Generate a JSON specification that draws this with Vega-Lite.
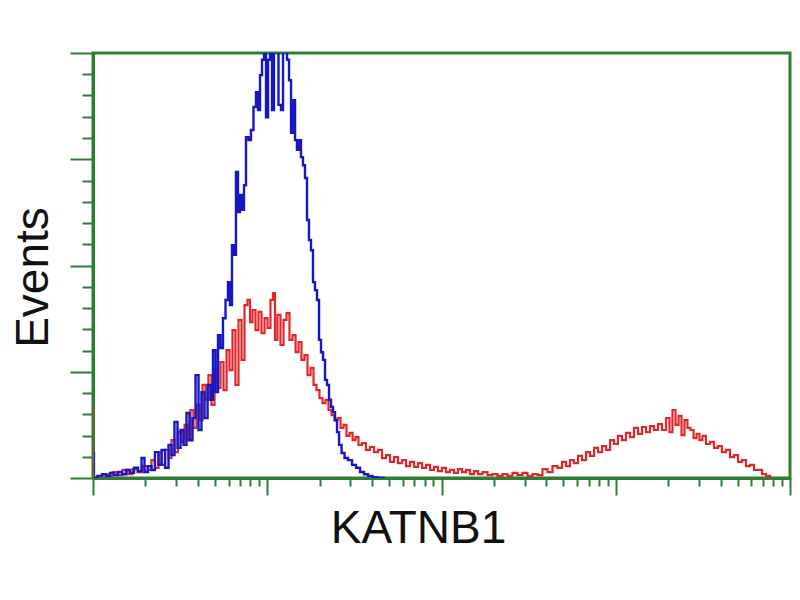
{
  "$schema": "https://vega.github.io/schema/vega-lite/v6.json",
  "width": 697,
  "height": 425,
  "autosize": "none",
  "padding": {"left": 93, "top": 53, "right": 10, "bottom": 69},
  "background": "white",
  "config": {
    "view": {"stroke": "#2e7d32", "strokeWidth": 3},
    "axis": {
      "domainColor": "#2e7d32",
      "domainWidth": 3,
      "tickColor": "#2e7d32",
      "tickWidth": 2,
      "labels": false,
      "grid": false,
      "titleFont": "Liberation Sans",
      "titleFontSize": 46,
      "titleFontWeight": "normal",
      "titleColor": "#111111"
    }
  },
  "datasets": {
    "sample": [
      {"x": 0, "y": 0}, {"x": 0.04, "y": 0.2}, {"x": 0.069, "y": 0.9}, {"x": 0.098, "y": 0.5}, {"x": 0.126, "y": 1.4},
      {"x": 0.155, "y": 0.7}, {"x": 0.184, "y": 1.9}, {"x": 0.212, "y": 0.9}, {"x": 0.241, "y": 2.1}, {"x": 0.27, "y": 1.4},
      {"x": 0.298, "y": 2.8}, {"x": 0.327, "y": 1.9}, {"x": 0.344, "y": 4.2}, {"x": 0.367, "y": 2.4}, {"x": 0.385, "y": 6.1},
      {"x": 0.402, "y": 3.1}, {"x": 0.425, "y": 6.6}, {"x": 0.442, "y": 4.7}, {"x": 0.459, "y": 8.9}, {"x": 0.476, "y": 6.1},
      {"x": 0.499, "y": 10.8}, {"x": 0.517, "y": 8.5}, {"x": 0.534, "y": 12.5}, {"x": 0.551, "y": 8.9}, {"x": 0.568, "y": 16.0},
      {"x": 0.585, "y": 11.8}, {"x": 0.603, "y": 17.2}, {"x": 0.62, "y": 13.6}, {"x": 0.637, "y": 21.9}, {"x": 0.654, "y": 18.4},
      {"x": 0.671, "y": 24.2}, {"x": 0.689, "y": 17.2}, {"x": 0.706, "y": 25.4}, {"x": 0.723, "y": 21.2}, {"x": 0.74, "y": 27.3},
      {"x": 0.758, "y": 20.7}, {"x": 0.775, "y": 30.1}, {"x": 0.792, "y": 25.4}, {"x": 0.809, "y": 34.8}, {"x": 0.826, "y": 21.9},
      {"x": 0.844, "y": 37.2}, {"x": 0.861, "y": 27.8}, {"x": 0.878, "y": 40.7}, {"x": 0.895, "y": 41.9}, {"x": 0.907, "y": 36.7},
      {"x": 0.924, "y": 39.5}, {"x": 0.941, "y": 34.8}, {"x": 0.958, "y": 39.1}, {"x": 0.976, "y": 34.1}, {"x": 0.993, "y": 37.6},
      {"x": 1.01, "y": 35.3}, {"x": 1.027, "y": 41.9}, {"x": 1.039, "y": 43.5}, {"x": 1.05, "y": 32.5}, {"x": 1.067, "y": 38.4},
      {"x": 1.085, "y": 31.3}, {"x": 1.102, "y": 37.2}, {"x": 1.119, "y": 38.8}, {"x": 1.136, "y": 32.5}, {"x": 1.154, "y": 33.6},
      {"x": 1.171, "y": 29.6}, {"x": 1.188, "y": 32.0}, {"x": 1.205, "y": 27.8}, {"x": 1.222, "y": 28.9}, {"x": 1.24, "y": 24.2},
      {"x": 1.257, "y": 25.9}, {"x": 1.274, "y": 21.9}, {"x": 1.291, "y": 20.7}, {"x": 1.308, "y": 18.8}, {"x": 1.326, "y": 17.6},
      {"x": 1.343, "y": 18.4}, {"x": 1.36, "y": 16.0}, {"x": 1.377, "y": 14.8}, {"x": 1.395, "y": 13.6}, {"x": 1.412, "y": 14.1},
      {"x": 1.429, "y": 11.8}, {"x": 1.446, "y": 12.5}, {"x": 1.463, "y": 9.9}, {"x": 1.481, "y": 10.6}, {"x": 1.498, "y": 8.9},
      {"x": 1.515, "y": 9.6}, {"x": 1.532, "y": 7.8}, {"x": 1.555, "y": 8.2}, {"x": 1.578, "y": 6.6}, {"x": 1.601, "y": 7.3},
      {"x": 1.624, "y": 6.1}, {"x": 1.647, "y": 6.6}, {"x": 1.67, "y": 4.7}, {"x": 1.693, "y": 5.4}, {"x": 1.716, "y": 3.8},
      {"x": 1.739, "y": 4.9}, {"x": 1.762, "y": 3.5}, {"x": 1.785, "y": 4.2}, {"x": 1.808, "y": 2.8}, {"x": 1.831, "y": 3.8},
      {"x": 1.854, "y": 2.6}, {"x": 1.877, "y": 3.5}, {"x": 1.9, "y": 2.4}, {"x": 1.923, "y": 3.1}, {"x": 1.945, "y": 1.9},
      {"x": 1.968, "y": 2.6}, {"x": 1.991, "y": 1.6}, {"x": 2.014, "y": 2.4}, {"x": 2.037, "y": 1.4}, {"x": 2.06, "y": 1.9},
      {"x": 2.083, "y": 1.2}, {"x": 2.106, "y": 2.1}, {"x": 2.129, "y": 1.4}, {"x": 2.152, "y": 1.9}, {"x": 2.175, "y": 0.9},
      {"x": 2.198, "y": 1.6}, {"x": 2.221, "y": 0.9}, {"x": 2.25, "y": 1.4}, {"x": 2.278, "y": 0.7}, {"x": 2.307, "y": 0.9},
      {"x": 2.336, "y": 0.5}, {"x": 2.364, "y": 0.9}, {"x": 2.393, "y": 0.5}, {"x": 2.422, "y": 1.2}, {"x": 2.45, "y": 0.7},
      {"x": 2.479, "y": 1.2}, {"x": 2.508, "y": 0.5}, {"x": 2.537, "y": 0.9}, {"x": 2.565, "y": 0.7}, {"x": 2.594, "y": 2.1},
      {"x": 2.623, "y": 1.4}, {"x": 2.651, "y": 2.8}, {"x": 2.68, "y": 2.4}, {"x": 2.703, "y": 3.8}, {"x": 2.726, "y": 2.8},
      {"x": 2.749, "y": 4.2}, {"x": 2.772, "y": 3.5}, {"x": 2.795, "y": 5.2}, {"x": 2.818, "y": 4.2}, {"x": 2.841, "y": 6.1},
      {"x": 2.864, "y": 5.2}, {"x": 2.887, "y": 7.1}, {"x": 2.91, "y": 6.1}, {"x": 2.933, "y": 7.5}, {"x": 2.956, "y": 6.6},
      {"x": 2.979, "y": 8.9}, {"x": 3.001, "y": 8.0}, {"x": 3.024, "y": 9.9}, {"x": 3.047, "y": 8.9}, {"x": 3.07, "y": 10.6},
      {"x": 3.093, "y": 9.6}, {"x": 3.116, "y": 11.8}, {"x": 3.139, "y": 10.4}, {"x": 3.162, "y": 12.0}, {"x": 3.185, "y": 10.8},
      {"x": 3.208, "y": 12.2}, {"x": 3.231, "y": 11.3}, {"x": 3.254, "y": 12.7}, {"x": 3.277, "y": 11.3}, {"x": 3.3, "y": 14.1},
      {"x": 3.317, "y": 10.8}, {"x": 3.334, "y": 16.0}, {"x": 3.352, "y": 12.5}, {"x": 3.369, "y": 14.6}, {"x": 3.386, "y": 10.1},
      {"x": 3.403, "y": 13.6}, {"x": 3.42, "y": 11.8}, {"x": 3.438, "y": 11.3}, {"x": 3.455, "y": 9.4}, {"x": 3.472, "y": 10.4},
      {"x": 3.489, "y": 8.9}, {"x": 3.506, "y": 9.9}, {"x": 3.529, "y": 8.0}, {"x": 3.552, "y": 8.5}, {"x": 3.575, "y": 7.1},
      {"x": 3.598, "y": 7.5}, {"x": 3.621, "y": 6.1}, {"x": 3.644, "y": 6.6}, {"x": 3.667, "y": 4.9}, {"x": 3.69, "y": 5.4},
      {"x": 3.713, "y": 3.8}, {"x": 3.736, "y": 4.2}, {"x": 3.759, "y": 2.8}, {"x": 3.782, "y": 3.1}, {"x": 3.805, "y": 1.9},
      {"x": 3.828, "y": 1.9}, {"x": 3.851, "y": 0.9}, {"x": 3.874, "y": 0.5}, {"x": 3.897, "y": 0}
    ],
    "control": [
      {"x": 0, "y": 0}, {"x": 0, "y": 5.9}, {"x": 0.011, "y": 0}, {"x": 0.04, "y": 0.5}, {"x": 0.063, "y": 0.9},
      {"x": 0.086, "y": 0.5}, {"x": 0.109, "y": 1.2}, {"x": 0.132, "y": 0.7}, {"x": 0.155, "y": 1.4}, {"x": 0.178, "y": 0.9},
      {"x": 0.201, "y": 1.9}, {"x": 0.224, "y": 1.2}, {"x": 0.247, "y": 2.4}, {"x": 0.27, "y": 1.6}, {"x": 0.287, "y": 4.7},
      {"x": 0.304, "y": 1.4}, {"x": 0.327, "y": 2.8}, {"x": 0.344, "y": 1.9}, {"x": 0.367, "y": 6.1}, {"x": 0.385, "y": 3.1},
      {"x": 0.402, "y": 6.6}, {"x": 0.425, "y": 2.4}, {"x": 0.442, "y": 7.8}, {"x": 0.459, "y": 5.4}, {"x": 0.476, "y": 13.2},
      {"x": 0.494, "y": 7.1}, {"x": 0.511, "y": 11.3}, {"x": 0.528, "y": 7.8}, {"x": 0.545, "y": 15.3}, {"x": 0.562, "y": 8.9},
      {"x": 0.58, "y": 14.1}, {"x": 0.597, "y": 24.2}, {"x": 0.614, "y": 11.3}, {"x": 0.631, "y": 20.2}, {"x": 0.649, "y": 14.1},
      {"x": 0.666, "y": 21.9}, {"x": 0.683, "y": 18.4}, {"x": 0.694, "y": 30.1}, {"x": 0.712, "y": 20.2}, {"x": 0.723, "y": 33.6},
      {"x": 0.74, "y": 30.6}, {"x": 0.752, "y": 37.6}, {"x": 0.769, "y": 41.9}, {"x": 0.78, "y": 46.1}, {"x": 0.792, "y": 40.7},
      {"x": 0.803, "y": 54.8}, {"x": 0.815, "y": 52.5}, {"x": 0.826, "y": 72.0}, {"x": 0.838, "y": 62.6}, {"x": 0.849, "y": 66.6},
      {"x": 0.861, "y": 63.1}, {"x": 0.872, "y": 68.9}, {"x": 0.884, "y": 80.2}, {"x": 0.901, "y": 79.5}, {"x": 0.912, "y": 81.9},
      {"x": 0.93, "y": 87.3}, {"x": 0.941, "y": 90.8}, {"x": 0.953, "y": 86.6}, {"x": 0.964, "y": 94.8}, {"x": 0.976, "y": 98.4},
      {"x": 0.987, "y": 101.9}, {"x": 0.999, "y": 84.9}, {"x": 1.01, "y": 98.4}, {"x": 1.022, "y": 103.1}, {"x": 1.033, "y": 86.6},
      {"x": 1.044, "y": 101.9}, {"x": 1.056, "y": 103.1}, {"x": 1.073, "y": 87.8}, {"x": 1.085, "y": 86.6}, {"x": 1.096, "y": 101.9},
      {"x": 1.108, "y": 103.1}, {"x": 1.119, "y": 98.4}, {"x": 1.131, "y": 93.6}, {"x": 1.142, "y": 81.2}, {"x": 1.154, "y": 88.9},
      {"x": 1.165, "y": 79.5}, {"x": 1.176, "y": 77.2}, {"x": 1.188, "y": 79.5}, {"x": 1.199, "y": 75.5}, {"x": 1.211, "y": 73.6},
      {"x": 1.222, "y": 70.6}, {"x": 1.234, "y": 60.7}, {"x": 1.245, "y": 56.0}, {"x": 1.257, "y": 53.6}, {"x": 1.268, "y": 46.1},
      {"x": 1.28, "y": 44.2}, {"x": 1.291, "y": 41.9}, {"x": 1.303, "y": 32.5}, {"x": 1.314, "y": 29.6}, {"x": 1.326, "y": 27.8},
      {"x": 1.337, "y": 23.1}, {"x": 1.349, "y": 21.9}, {"x": 1.36, "y": 18.4}, {"x": 1.372, "y": 16.7}, {"x": 1.383, "y": 15.5},
      {"x": 1.395, "y": 13.6}, {"x": 1.406, "y": 10.8}, {"x": 1.418, "y": 7.8}, {"x": 1.435, "y": 5.9}, {"x": 1.452, "y": 4.7},
      {"x": 1.475, "y": 4.2}, {"x": 1.498, "y": 3.1}, {"x": 1.521, "y": 2.4}, {"x": 1.544, "y": 1.4}, {"x": 1.567, "y": 0.9},
      {"x": 1.59, "y": 0.5}, {"x": 1.618, "y": 0.2}, {"x": 1.647, "y": 0}, {"x": 1.676, "y": 0}
    ],
    "spike": [
      {"x": 0, "y": 0}, {"x": 0, "y": 17.2}
    ]
  },
  "encoding": {
    "x": {
      "field": "x",
      "type": "quantitative",
      "scale": {"domain": [0, 4], "nice": false, "zero": false},
      "axis": {
        "title": "KATNB1",
        "values": [0, 0.301, 0.477, 0.602, 0.699, 0.778, 0.845, 0.903, 0.954,
                   1, 1.301, 1.477, 1.602, 1.699, 1.778, 1.845, 1.903, 1.954,
                   2, 2.301, 2.477, 2.602, 2.699, 2.778, 2.845, 2.903, 2.954,
                   3, 3.301, 3.477, 3.602, 3.699, 3.778, 3.845, 3.903, 3.954, 4],
        "tickSize": {"condition": {"test": "datum.value % 1 === 0", "value": 17}, "value": 8},
        "titleX": 325,
        "titleY": 64,
        "titleAlign": "center",
        "titleBaseline": "alphabetic",
        "titleAnchor": null
      }
    },
    "y": {
      "field": "y",
      "type": "quantitative",
      "scale": {"domain": [0, 100], "nice": false},
      "axis": {
        "title": "Events",
        "values": [0, 5, 10, 15, 20, 25, 30, 35, 40, 45, 50, 55, 60, 65, 70, 75, 80, 85, 90, 95, 100],
        "tickSize": {"condition": {"test": "datum.value % 25 === 0", "value": 23}, "value": 11},
        "titleX": -46,
        "titleY": 224,
        "titleAngle": 270,
        "titleAlign": "center",
        "titleBaseline": "alphabetic"
      }
    },
    "order": {"value": null}
  },
  "layer": [
    {
      "data": {"name": "sample"},
      "mark": {"type": "line", "color": "#e0282c", "strokeWidth": 2.2, "clip": true, "interpolate": "step"}
    },
    {
      "data": {"name": "control"},
      "mark": {"type": "line", "color": "#1616c4", "strokeWidth": 2.4, "clip": true, "interpolate": "step"}
    },
    {
      "data": {"name": "spike"},
      "mark": {"type": "line", "color": "#8a5a2b", "strokeWidth": 2.5, "clip": true}
    }
  ]
}
